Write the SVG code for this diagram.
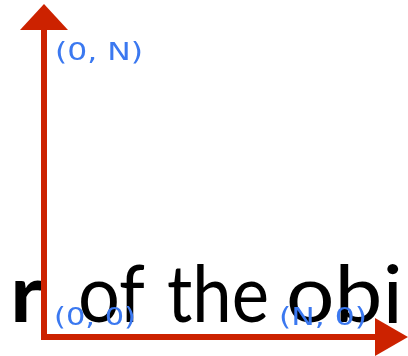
<svg xmlns="http://www.w3.org/2000/svg" width="408" height="356" viewBox="0 0 408 356">
<defs>
<clipPath id="cap"><rect x="0" y="0" width="408" height="323"/></clipPath>
<filter id="soft" x="-5%" y="-5%" width="110%" height="110%"><feGaussianBlur stdDeviation="0.5"/></filter>
</defs>
<style>
.lbl{font-family:"DejaVu Sans",Verdana,sans-serif;font-size:25px;fill:#3a78f0}
.big{font-family:Lato,"Open Sans",sans-serif;font-size:80px;fill:#000}
.axis{stroke:#cc2200;stroke-width:6;fill:none}
.head{fill:#cc2200}
</style>
<rect width="408" height="356" fill="#fff"/>
<g id="caption" clip-path="url(#cap)">
<text class="big" x="10" y="322" font-weight="bold" textLength="33" lengthAdjust="spacingAndGlyphs">r</text>
<text class="big" x="78" y="322" textLength="67" lengthAdjust="spacingAndGlyphs">of</text>
<text class="big" x="167" y="322" textLength="102" lengthAdjust="spacingAndGlyphs">the</text>
<text class="big" x="286" y="322" textLength="117" lengthAdjust="spacingAndGlyphs">obj</text>
</g>
<g id="connectors" filter="url(#soft)">
<path class="axis" d="M44 28 V337 H378"/>
<polygon class="head" points="44,4 20,30 68,30"/>
<polygon class="head" points="375,318 408,337 375,356"/>
</g>
<g id="origin" filter="url(#soft)"><text class="lbl" x="54" y="325" textLength="82" lengthAdjust="spacingAndGlyphs">(0, 0)</text></g>
<g id="yaxis" filter="url(#soft)"><text class="lbl" x="55" y="60" textLength="88" lengthAdjust="spacingAndGlyphs">(0, N)</text></g>
<g id="xaxis" filter="url(#soft)"><text class="lbl" x="279" y="325" textLength="88" lengthAdjust="spacingAndGlyphs">(N, 0)</text></g>
</svg>
